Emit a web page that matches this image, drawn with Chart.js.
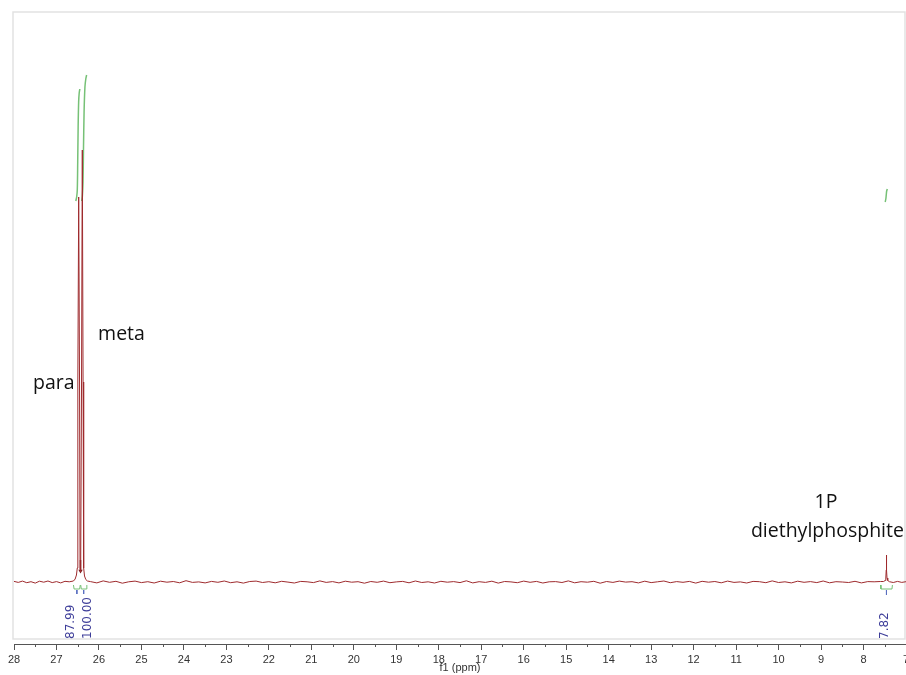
<!DOCTYPE html>
<html>
<head>
<meta charset="utf-8">
<script src="https://cdn.jsdelivr.net/npm/chart.js@4.4.0/dist/chart.umd.min.js"></script>
<style>
  html, body { margin: 0; padding: 0; background: #fff; overflow: hidden; }
  canvas { display: block; }
</style>
</head>
<body>
<canvas id="nmr" width="906" height="675"></canvas>
<script>
// f1 axis range (ppm), drawn high to low
const xMin = 7;
const xMax = 28;

// baseline noise of the 31P spectrum
const basePpm = [28.0, 27.9, 27.8, 27.7, 27.6, 27.5, 27.4, 27.3, 27.2, 27.1, 27.0, 26.9, 26.8, 26.7,
  26.2, 26.05, 25.9, 25.75, 25.6, 25.45, 25.3, 25.15, 25.0, 24.85, 24.7, 24.55, 24.4, 24.25, 24.1, 23.95,
  23.8, 23.65, 23.5, 23.35, 23.2, 23.05, 22.9, 22.75, 22.6, 22.45, 22.3, 22.15, 22.0, 21.85, 21.7, 21.55,
  21.4, 21.25, 21.1, 20.95, 20.8, 20.65, 20.5, 20.35, 20.2, 20.05, 19.9, 19.75, 19.6, 19.45, 19.3, 19.15,
  19.0, 18.85, 18.7, 18.55, 18.4, 18.25, 18.1, 17.95, 17.8, 17.65, 17.5, 17.35, 17.2, 17.05, 16.9, 16.75,
  16.6, 16.45, 16.3, 16.15, 16.0, 15.85, 15.7, 15.55, 15.4, 15.25, 15.1, 14.95, 14.8, 14.65, 14.5, 14.35,
  14.2, 14.05, 13.9, 13.75, 13.6, 13.45, 13.3, 13.15, 13.0, 12.85, 12.7, 12.55, 12.4, 12.25, 12.1, 11.95,
  11.8, 11.65, 11.5, 11.35, 11.2, 11.05, 10.9, 10.75, 10.6, 10.45, 10.3, 10.15, 10.0, 9.85, 9.7, 9.55,
  9.4, 9.25, 9.1, 8.95, 8.8, 8.65, 8.5, 8.35, 8.2, 8.05, 7.9, 7.75, 7.6,
  7.3, 7.2, 7.1, 7.0];
const baseInt = [0.6, -0.4, 0.9, -0.7, 0.3, -1.1, 0.8, -0.2, 1.0, -0.6, 0.4, -0.9, 0.7, 0.2,
  0.4, -0.9, 1.1, -0.3, 0.7, -1.2, 0.2, 0.9, -0.6, 0.3, -1.0, 0.8, -0.2, 0.5, -0.8, 1.3,
  -0.4, 0.1, -0.9, 0.6, -0.3, 1.0, -0.7, 0.2, -1.1, 0.5, 0.9, -0.5, 0.3, -0.8, 0.7, -0.1,
  -1.0, 0.6, 0.2, -0.6, 1.1, -0.4, 0.4, -0.9, 0.8, -0.2, 0.3, -1.2, 0.5, -0.3, 0.9, -0.7,
  0.1, 0.6, -0.8, 1.0, -0.5, 0.2, -1.0, 0.7, -0.2, 0.4, -0.6, 1.2, -0.9, 0.3, -0.4, 0.8,
  -1.1, 0.5, 0.1, -0.7, 0.9, -0.3, 0.6, -1.0, 0.2, 0.4, -0.5, 1.1, -0.8, 0.3, -0.2, 0.7,
  -1.2, 0.5, -0.4, 0.9, -0.1, 0.3, -0.9, 0.8, -0.6, 0.2, 1.0, -0.7, 0.4, -0.3, 0.6, -1.1,
  0.7, -0.2, 0.5, -0.8, 0.9, -0.4, 0.1, -1.0, 0.6, 0.3, -0.7, 1.1, -0.5, 0.2, -0.9, 0.8,
  -0.3, 0.4, -0.6, 1.0, -0.8, 0.3, 0.0, -0.5, 0.7, -0.9, 0.4, 0.2, 0.5,
  -0.5, 0.6, -0.4, 0.3];

// signals: para / meta pair and the diethylphosphite line
const peakPpm = [26.6, 26.56, 26.53, 26.51, 26.497, 26.477, 26.457, 26.445, 26.435,
  26.425, 26.41, 26.392, 26.374, 26.36, 26.34, 26.31, 26.27,
  7.53, 7.49, 7.475, 7.466, 7.461, 7.456, 7.447, 7.43, 7.39];
const peakInt = [1.0, 3, 7, 14, 200, 385, 200, 14, 10,
  14, 200, 432, 200, 14, 6, 2.5, 1,
  0.5, 1.5, 4, 12, 27, 12, 4, 1.5, 0.3];

// integral curves
const paraIntPpm = [26.545, 26.525, 26.51, 26.5, 26.49, 26.478, 26.465, 26.45];
const paraIntVal = [381, 385, 392, 420, 455, 480, 489, 493];
const metaIntPpm = [26.405, 26.39, 26.375, 26.365, 26.35, 26.33, 26.31, 26.29];
const metaIntVal = [381, 386, 400, 430, 470, 495, 503, 507];
const phosIntPpm = [7.49, 7.475, 7.465, 7.455, 7.44];
const phosIntVal = [380, 383, 387, 391, 393];

// integral values printed under the peaks
const integralText = ['87.99', '100.00', '7.82'];
const integralAt = [26.66, 26.25, 7.5];

// peak assignment labels
const noteText = ['para', 'meta', '1P', 'diethylphosphite'];

function pts(xs, ys) {
  return xs.map((x, i) => ({ x: x, y: ys[i] }));
}

const spectrum = pts(basePpm.concat(peakPpm), baseInt.concat(peakInt)).sort((a, b) => b.x - a.x);

// little integral brackets under the baseline
const brackets = [
  { x: 26.6, y: -3 }, { x: 26.585, y: -7 }, { x: 26.455, y: -7 }, { x: 26.44, y: -3 }, { x: 26.44, y: null },
  { x: 26.43, y: -3 }, { x: 26.415, y: -7 }, { x: 26.3, y: -7 }, { x: 26.285, y: -3 }, { x: 26.285, y: null },
  { x: 7.6, y: -3 }, { x: 7.59, y: -7 }, { x: 7.33, y: -7 }, { x: 7.32, y: -3 }
];
const bracketTicks = [
  { x: 26.52, y: -8 }, { x: 26.52, y: -12 }, { x: 26.52, y: null },
  { x: 26.36, y: -8 }, { x: 26.36, y: -12 }, { x: 26.36, y: null },
  { x: 7.46, y: -8 }, { x: 7.46, y: -13 }
];

const decor = {
  id: 'decor',
  beforeDatasetsDraw(chart) {
    const { ctx, chartArea: a } = chart;
    ctx.save();
    ctx.strokeStyle = '#e2e2e2';
    ctx.lineWidth = 1.5;
    ctx.strokeRect(a.left - 1, a.top, a.right - a.left, a.bottom - 5 - a.top);
    ctx.restore();
  },
  afterDraw(chart) {
    const { ctx, chartArea: a, scales: { x, y } } = chart;
    ctx.save();

    // half-ppm minor ticks
    ctx.strokeStyle = '#555';
    ctx.lineWidth = 1;
    for (let v = xMin + 0.5; v < xMax; v += 1) {
      const px = Math.round(x.getPixelForValue(v)) + 0.5;
      ctx.beginPath();
      ctx.moveTo(px, a.bottom);
      ctx.lineTo(px, a.bottom + 3);
      ctx.stroke();
    }

    // integral values, rotated
    ctx.fillStyle = '#3d3d99';
    ctx.font = '12px "DejaVu Sans"';
    ctx.textAlign = 'left';
    ctx.textBaseline = 'middle';
    integralText.forEach((t, i) => {
      ctx.save();
      ctx.translate(x.getPixelForValue(integralAt[i]), a.bottom - 5);
      ctx.rotate(-Math.PI / 2);
      ctx.fillText(t, 0, 0);
      ctx.restore();
    });

    // assignment labels
    const notePos = [
      { ppm: 27.553, v: 193, align: 'left' },
      { ppm: 26.02, v: 242, align: 'left' },
      { ppm: 8.885, v: 74, align: 'center' },
      { ppm: 8.85, v: 45, align: 'center' }
    ];
    ctx.fillStyle = '#111';
    ctx.font = '19.5px "Open Sans"';
    ctx.textBaseline = 'alphabetic';
    noteText.forEach((t, i) => {
      const p = notePos[i];
      ctx.textAlign = p.align;
      ctx.fillText(t, x.getPixelForValue(p.ppm), y.getPixelForValue(p.v));
    });
    ctx.restore();
  }
};

const green = '#76c176';
const red = '#9e2a2d';

new Chart(document.getElementById('nmr'), {
  type: 'line',
  data: {
    datasets: [
      { data: spectrum, borderColor: red, borderWidth: 1, pointRadius: 0, tension: 0 },
      { data: pts(paraIntPpm, paraIntVal), borderColor: green, borderWidth: 1.5, pointRadius: 0, tension: 0.3 },
      { data: pts(metaIntPpm, metaIntVal), borderColor: green, borderWidth: 1.5, pointRadius: 0, tension: 0.3 },
      { data: pts(phosIntPpm, phosIntVal), borderColor: green, borderWidth: 1.5, pointRadius: 0, tension: 0.3 },
      { data: brackets, borderColor: green, borderWidth: 1, pointRadius: 0, spanGaps: false },
      { data: bracketTicks, borderColor: '#5a6fc0', borderWidth: 1, pointRadius: 0, spanGaps: false },
      {
        data: [{ x: 26.434, y: 22 }, { x: 26.434, y: 11 }],
        borderColor: '#7a1a1e', borderWidth: 1.5,
        pointRadius: [0, 2.5], pointStyle: 'triangle', rotation: 180,
        pointBackgroundColor: '#7a1a1e', pointBorderWidth: 0
      }
    ]
  },
  options: {
    responsive: false,
    animation: false,
    layout: { autoPadding: false, padding: { left: 14, right: 0, top: 12, bottom: 0 } },
    plugins: { legend: { display: false }, tooltip: { enabled: false } },
    scales: {
      x: {
        type: 'linear',
        reverse: true,
        min: xMin,
        max: xMax,
        afterFit: (scale) => {
          scale.height = 31;
          scale.paddingLeft = 0;
          scale.paddingRight = 0;
        },
        ticks: {
          stepSize: 1,
          autoSkip: false,
          maxRotation: 0,
          padding: 3,
          color: '#333',
          font: { family: '"Liberation Sans"', size: 11 }
        },
        grid: { drawOnChartArea: false, drawTicks: true, tickLength: 6, color: '#555' },
        border: { display: true, color: '#555', width: 1 },
        title: {
          display: true,
          text: 'f1 (ppm)',
          color: '#333',
          padding: { top: 0, bottom: 0 },
          font: { family: '"Liberation Sans"', size: 11 }
        }
      },
      y: { display: false, min: -62, max: 570 }
    }
  },
  plugins: [decor]
});
</script>
</body>
</html>
